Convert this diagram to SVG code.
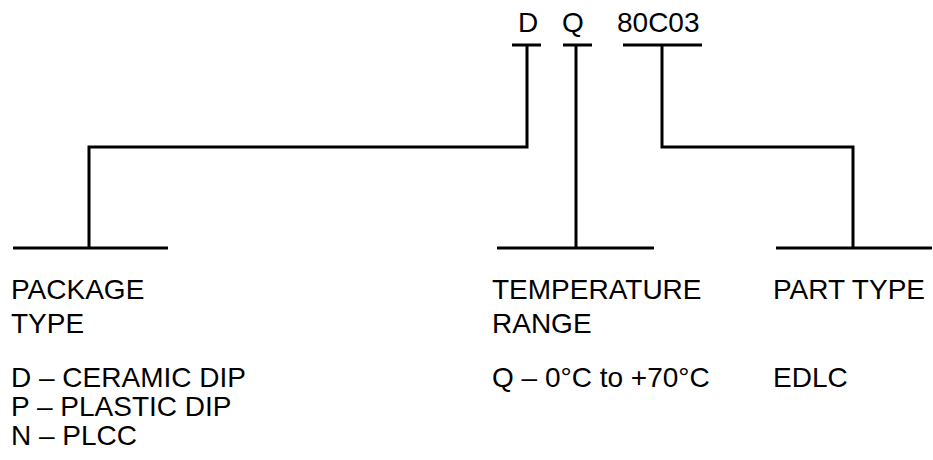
<svg xmlns="http://www.w3.org/2000/svg" width="933" height="460" viewBox="0 0 933 460">
<style>
text{font-family:"Liberation Sans",Arial,sans-serif;font-size:28px;fill:#000}
.ln{stroke:#000;stroke-width:3;fill:none}
</style>
<rect width="933" height="460" fill="#fff"/>
<g id="code">
<text x="518" y="32">D</text>
<text x="562" y="32">Q</text>
<text x="617" y="32">80C03</text>
</g>
<g id="connectors">
<path class="ln" d="M512,45H541M527,45V147H89V248"/>
<path class="ln" d="M563,45H592M576,45V248"/>
<path class="ln" d="M623,45H702M662,45V147H853V248"/>
<path class="ln" d="M13,248H168"/>
<path class="ln" d="M497,248H654"/>
<path class="ln" d="M776,248H932"/>
</g>
<g id="package">
<text x="11" y="299">PACKAGE</text>
<text x="11" y="333">TYPE</text>
<text x="11" y="387">D – CERAMIC DIP</text>
<text x="11" y="416">P – PLASTIC DIP</text>
<text x="11" y="445">N – PLCC</text>
</g>
<g id="temperature">
<text x="492" y="299">TEMPERATURE</text>
<text x="492" y="333">RANGE</text>
<text x="492" y="387">Q – 0°C to +70°C</text>
</g>
<g id="parttype">
<text x="773" y="299">PART TYPE</text>
<text x="773" y="387">EDLC</text>
</g>
</svg>
